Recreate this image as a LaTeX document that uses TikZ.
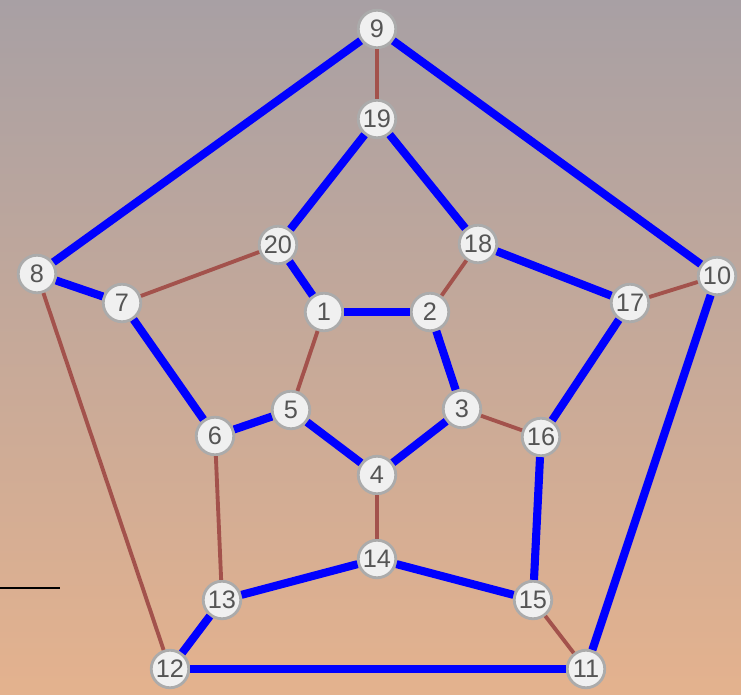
\documentclass[tikz,border=0pt]{standalone}
\usepackage{fontspec}
\setsansfont{Liberation Sans}
\definecolor{Cyc}{HTML}{0000FF}
\definecolor{Rest}{HTML}{A3524C}
\definecolor{Rim}{HTML}{ABABAB}
\definecolor{Face}{HTML}{F0F0F0}
\definecolor{Num}{HTML}{555555}
\definecolor{SkyTop}{HTML}{A8A0A4}
\definecolor{SkyMid}{HTML}{C9A899}
\definecolor{SkyLow}{HTML}{E4B28E}
\tikzset{
  v/.style={circle,draw=Rim,line width=1.6pt,fill=Face,minimum size=7.5mm,inner sep=0pt,font=\sffamily\Large,text=Num},
  ham/.style={draw=Cyc,line width=4.6pt},
  other/.style={draw=Rest,line width=2.2pt}
}
\begin{document}
\begin{tikzpicture}[x=0.02cm,y=-0.02cm]
  \shade[top color=SkyTop,middle color=SkyMid,bottom color=SkyLow] (0,0) rectangle (741,695);
  \useasboundingbox (0,0) rectangle (741,695);
  \coordinate (m1) at (0,588);
  \coordinate (m2) at (60,588);
  \draw[line width=0.9pt] (m1)--(m2);
  % outer ring
  \node[v] (n9) at (377,29) {9};
  \node[v] (n8) at (37,274) {8};
  \node[v] (n10) at (717,276) {10};
  \node[v] (n12) at (170,669) {12};
  \node[v] (n11) at (586,669) {11};
  % middle ring
  \node[v] (n19) at (377,119) {19};
  \node[v] (n20) at (278,245) {20};
  \node[v] (n18) at (478,244) {18};
  \node[v] (n7) at (122,303) {7};
  \node[v] (n17) at (630,303) {17};
  \node[v] (n6) at (215,436) {6};
  \node[v] (n16) at (541,437) {16};
  \node[v] (n13) at (222,600) {13};
  \node[v] (n14) at (377,559) {14};
  \node[v] (n15) at (533,600) {15};
  % inner ring
  \node[v] (n1) at (324,312) {1};
  \node[v] (n2) at (430,312) {2};
  \node[v] (n3) at (462,409) {3};
  \node[v] (n4) at (377,475) {4};
  \node[v] (n5) at (291,410) {5};
  % edges off the cycle, then the cycle
  \foreach \a/\b in {9/19,20/7,18/2,17/10,1/5,3/16,4/14,6/13,8/12,15/11}
    \draw[other] (n\a)--(n\b);
  \foreach \a/\b in {9/8,8/7,7/6,6/5,5/4,4/3,3/2,2/1,1/20,20/19,19/18,18/17,17/16,16/15,15/14,14/13,13/12,12/11,11/10,10/9}
    \draw[ham] (n\a)--(n\b);
\end{tikzpicture}
\end{document}
